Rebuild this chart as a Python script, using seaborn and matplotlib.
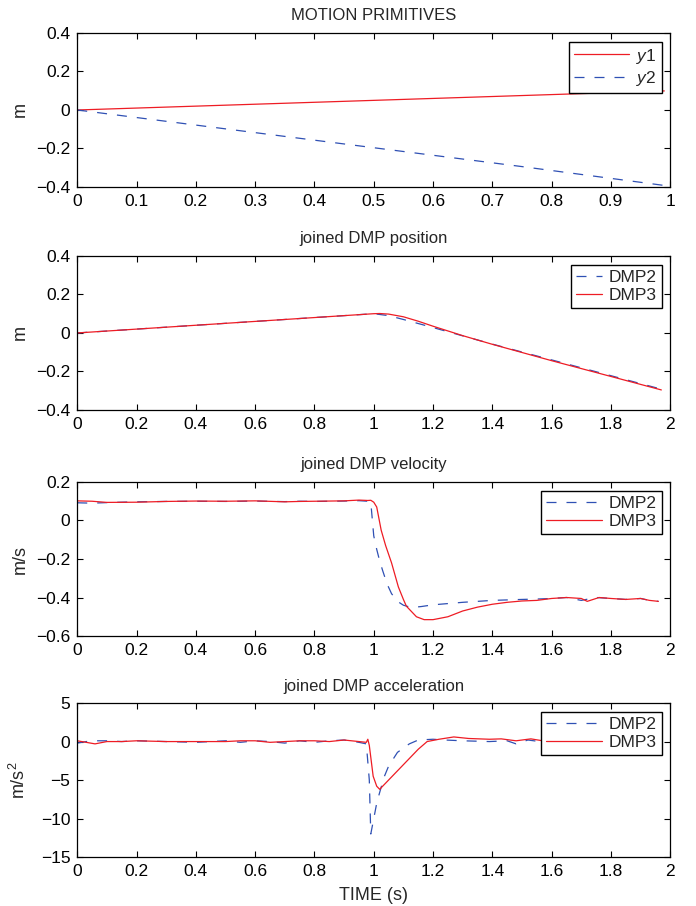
import seaborn as sns
from matplotlib import pyplot as plt

#################################
# data
#################################
# motion primitives
t_prim = [0.0, 0.25, 0.5, 0.75, 0.99]
y1 = [0.0, 0.025, 0.05, 0.075, 0.099]
y2 = [0.0, -0.098, -0.196, -0.294, -0.392]

# joined position
t_pos2 = [0.0, 0.25, 0.5, 0.75, 1.0, 1.05, 1.1, 1.2, 1.4, 1.6, 1.8, 1.97]
pos2 = [0.0, 0.025, 0.05, 0.075, 0.1, 0.09, 0.07, 0.028, -0.058, -0.14, -0.222, -0.292]
t_pos3 = [0.0, 0.25, 0.5, 0.75, 1.0, 1.02, 1.05, 1.1, 1.15, 1.2, 1.3, 1.4, 1.6, 1.8, 1.97]
pos3 = [0.0, 0.025, 0.05, 0.075, 0.1, 0.101, 0.098, 0.084, 0.061, 0.035, -0.014, -0.059, -0.144, -0.226, -0.296]

# joined velocity
t_vel2 = [0.0, 0.05, 0.1, 0.2, 0.3, 0.4, 0.5, 0.6, 0.7, 0.75, 0.8, 0.9, 0.95, 0.98,
          0.99, 1.0, 1.01, 1.02, 1.03, 1.045, 1.06, 1.08, 1.1, 1.127, 1.16, 1.2, 1.3, 1.4,
          1.5, 1.55, 1.6, 1.65, 1.7, 1.75, 1.8, 1.85, 1.9, 1.93, 1.96]
vel2 = [0.092, 0.090, 0.093, 0.097, 0.099, 0.100, 0.099, 0.101, 0.098, 0.100, 0.099, 0.101, 0.103, 0.100,
        0.095, -0.08, -0.15, -0.21, -0.26, -0.33, -0.38, -0.42, -0.44, -0.452, -0.447, -0.438, -0.425, -0.415,
        -0.41, -0.408, -0.405, -0.40, -0.415, -0.40, -0.405, -0.41, -0.405, -0.415, -0.42]
t_vel3 = [0.0, 0.05, 0.1, 0.2, 0.3, 0.4, 0.5, 0.6, 0.7, 0.75, 0.8, 0.9, 0.95, 0.98,
          0.99, 1.0, 1.01, 1.025, 1.04, 1.06, 1.083, 1.1, 1.11, 1.144, 1.17, 1.2, 1.25, 1.3,
          1.35, 1.4, 1.45, 1.5, 1.55, 1.6, 1.65, 1.7, 1.72, 1.76, 1.8, 1.85, 1.9, 1.93, 1.96]
vel3 = [0.102, 0.100, 0.094, 0.095, 0.099, 0.101, 0.100, 0.102, 0.097, 0.099, 0.100, 0.102, 0.106, 0.104,
        0.105, 0.095, 0.07, -0.05, -0.13, -0.22, -0.345, -0.41, -0.445, -0.50, -0.515, -0.515, -0.50, -0.47,
        -0.45, -0.435, -0.425, -0.418, -0.415, -0.405, -0.40, -0.405, -0.42, -0.40, -0.405, -0.41, -0.405, -0.415, -0.42]

# joined acceleration
t_acc2 = [0.0, 0.03, 0.06, 0.1, 0.15, 0.2, 0.3, 0.4, 0.5, 0.55, 0.6, 0.65, 0.7, 0.75, 0.8, 0.85, 0.9, 0.95, 0.975,
          0.985, 0.99, 1.0, 1.01, 1.02, 1.035, 1.05, 1.08, 1.12, 1.15, 1.2, 1.24, 1.3, 1.39, 1.45, 1.48, 1.52,
          1.56, 1.6, 1.7, 1.8, 1.9, 1.96]
acc2 = [-0.2, 0.0, 0.1, 0.1, 0.0, 0.1, 0.0, -0.1, 0.1, -0.1, 0.1, 0.0, -0.2, 0.1, -0.1, 0.1, 0.2, -0.1, -0.3,
        -5.0, -12.0, -10.0, -8.0, -6.6, -4.6, -3.2, -1.4, -0.3, 0.2, 0.3, 0.2, 0.1, 0.0, 0.1, -0.3, 0.2,
        0.0, 0.0, 0.1, 0.0, 0.1, 0.0]
t_acc3 = [0.0, 0.03, 0.06, 0.1, 0.15, 0.2, 0.3, 0.4, 0.5, 0.55, 0.6, 0.65, 0.7, 0.75, 0.8, 0.85, 0.9, 0.95, 0.975,
          0.98, 0.985, 0.998, 1.01, 1.02, 1.04, 1.06, 1.09, 1.12, 1.15, 1.18, 1.22, 1.27, 1.32, 1.39, 1.43,
          1.48, 1.53, 1.57, 1.6, 1.7, 1.8, 1.9, 1.96]
acc3 = [0.1, -0.1, -0.3, 0.0, 0.0, 0.1, 0.0, 0.0, 0.0, 0.1, 0.1, -0.1, 0.0, 0.1, 0.1, 0.0, 0.2, 0.0, -0.1,
        0.3, -0.5, -4.5, -5.8, -6.2, -5.4, -4.6, -3.4, -2.2, -1.0, 0.0, 0.3, 0.6, 0.4, 0.3, 0.35,
        0.1, 0.35, 0.1, 0.0, 0.1, 0.0, 0.1, 0.0]

RED = '#ee1c24'
BLUE = '#2f50b4'

sns.set_style('ticks')
plt.rcParams['font.family'] = ['Liberation Sans', 'DejaVu Sans']
plt.rcParams['mathtext.fontset'] = 'custom'
plt.rcParams['mathtext.it'] = 'Liberation Sans:italic'
plt.rcParams['mathtext.rm'] = 'Liberation Sans'

fig = plt.figure(figsize=(6.96, 9.06), dpi=100)
L, W, H = 0.111, 0.852, 0.170
bottoms = [0.7936, 0.5475, 0.298, 0.054]
axes = [fig.add_axes([L, b, W, H]) for b in bottoms]


def draw(ax, t_a, v_a, lab_a, style_a, col_a, t_b, v_b, lab_b, style_b, col_b):
    for t, v, lab, ls, col in [(t_a, v_a, lab_a, style_a, col_a), (t_b, v_b, lab_b, style_b, col_b)]:
        line = sns.lineplot(x=t, y=v, ax=ax, color=col, lw=0.9, label=lab,
                            estimator=None, sort=False).lines[-1]
        if ls == '--':
            line.set_dashes((8, 8))


def style(ax, title, ylabel, xlim, ylim, yticks, xticks, handlelen):
    ax.set_xlim(*xlim)
    ax.set_ylim(*ylim)
    ax.set_yticks(yticks)
    ax.set_xticks(xticks)
    ax.set_xticklabels([('%g' % x) for x in xticks])
    ax.set_yticklabels([('%g' % y).replace('-', '\u2212') for y in yticks])
    ax.tick_params(direction='in', top=True, right=True, length=4.5, width=0.8,
                   labelsize=12.5, pad=5, colors='black')
    for s in ax.spines.values():
        s.set_visible(True)
        s.set_linewidth(0.9)
        s.set_color('black')
    ax.set_title(title, fontsize=12, pad=9)
    ax.set_ylabel(ylabel, fontsize=13)
    ax.yaxis.set_label_coords(-0.082, 0.5)
    leg = ax.legend(loc='upper right', frameon=True, fancybox=False, framealpha=1,
                    edgecolor='black', fontsize=12.5, handlelength=handlelen,
                    borderaxespad=0.5, labelspacing=0.2, handletextpad=0.4,
                    borderpad=0.28)
    leg.get_frame().set_linewidth(1.0)


draw(axes[0], t_prim, y1, '$y$1', '-', RED, t_prim, y2, '$y$2', '--', BLUE)
style(axes[0], 'MOTION PRIMITIVES', 'm', (0, 1), (-0.4, 0.4),
      [-0.4, -0.2, 0, 0.2, 0.4], [0, 0.1, 0.2, 0.3, 0.4, 0.5, 0.6, 0.7, 0.8, 0.9, 1], 3.2)

t2 = [0, 0.2, 0.4, 0.6, 0.8, 1, 1.2, 1.4, 1.6, 1.8, 2]
draw(axes[1], t_pos2, pos2, 'DMP2', '--', BLUE, t_pos3, pos3, 'DMP3', '-', RED)
style(axes[1], 'joined DMP position', 'm', (0, 2), (-0.4, 0.4),
      [-0.4, -0.2, 0, 0.2, 0.4], t2, 1.5)

draw(axes[2], t_vel2, vel2, 'DMP2', '--', BLUE, t_vel3, vel3, 'DMP3', '-', RED)
style(axes[2], 'joined DMP velocity', 'm/s', (0, 2), (-0.6, 0.2),
      [-0.6, -0.4, -0.2, 0, 0.2], t2, 3.2)

draw(axes[3], t_acc2, acc2, 'DMP2', '--', BLUE, t_acc3, acc3, 'DMP3', '-', RED)
style(axes[3], 'joined DMP acceleration', 'm/s$^2$', (0, 2), (-15, 5),
      [-15, -10, -5, 0, 5], t2, 3.2)
axes[3].set_xlabel('TIME (s)', fontsize=13, labelpad=6)

fig.savefig('out.png', dpi=100)
